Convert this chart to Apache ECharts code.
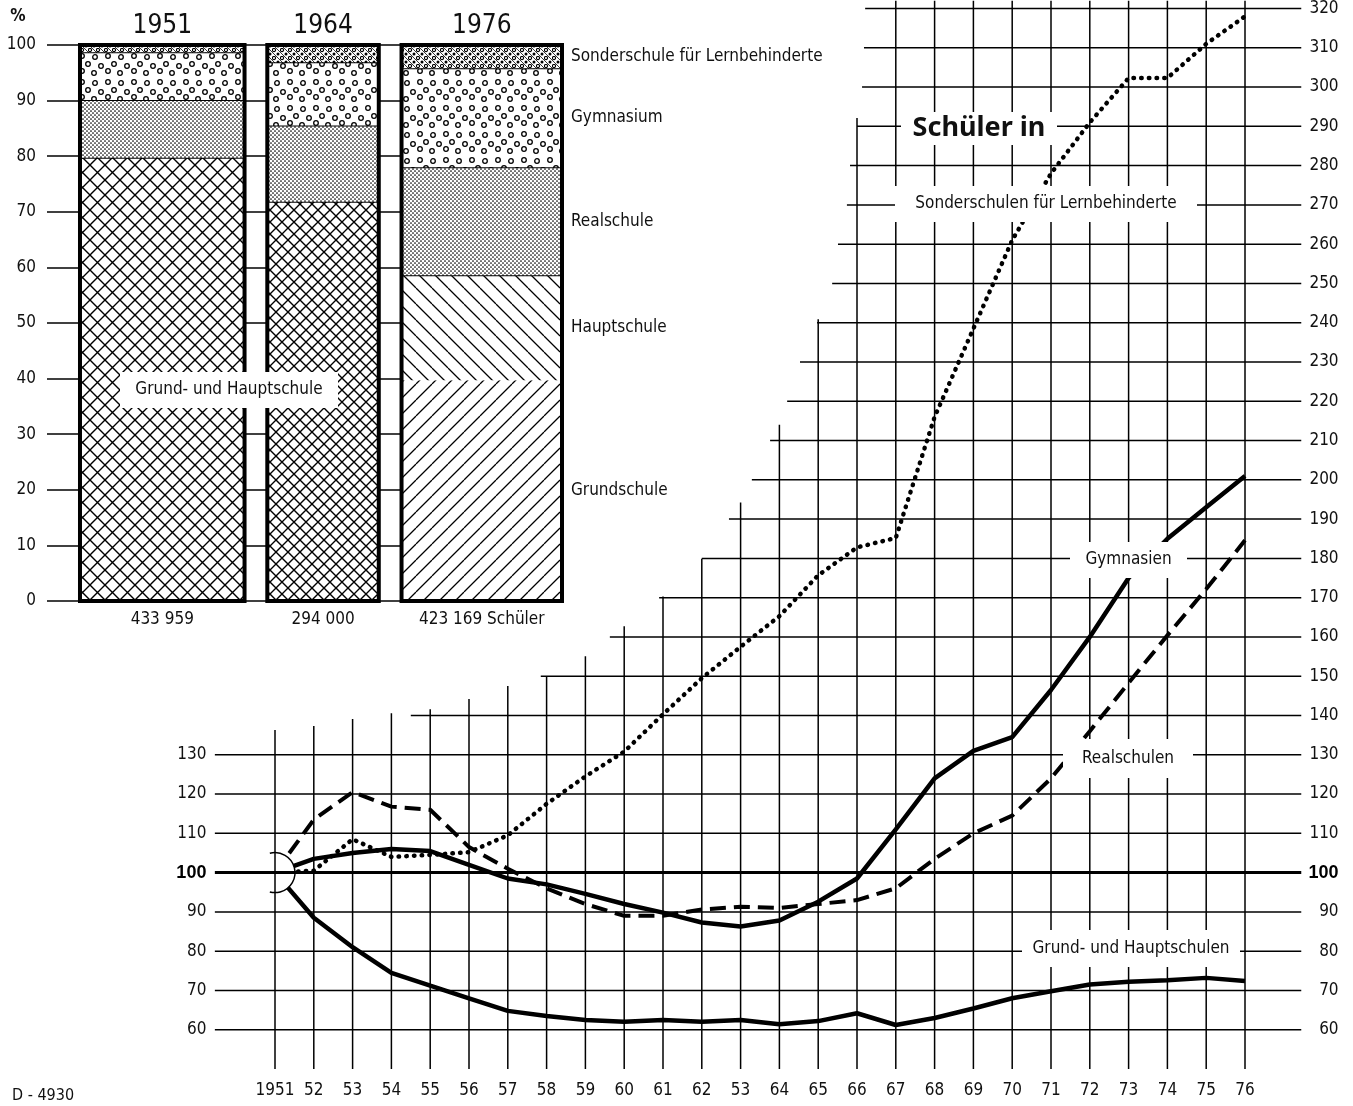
<!DOCTYPE html>
<html>
<head>
<meta charset="utf-8">
<title>Schüler 1951 - 1976</title>
<script src="https://cdn.jsdelivr.net/npm/echarts@6/dist/echarts.min.js"></script>
<style>
  html, body { margin: 0; padding: 0; background: #fff; }
  #chart { width: 1353px; height: 1106px; }
</style>
</head>
<body>
<div id="chart"></div>
<script>
// Anteile der Schulformen (%) in den Stichjahren
var barYears = ['1951', '1964', '1976'];
var pupils = [433959, 294000, 423169];
var pupilLabels = ['433 959', '294 000', '423 169 Schüler'];
var shareGrundHaupt = [79.7, 71.8, null];
var shareGrund = [null, null, 39.7];
var shareHaupt = [null, null, 18.9];
var shareReal = [10.4, 13.7, 19.4];
var shareGymn = [8.6, 11.4, 17.8];
var shareSonder = [1.3, 3.1, 4.2];

// Schüler in ... (1951 = 100)
var years = [1951, 1952, 1953, 1954, 1955, 1956, 1957, 1958, 1959, 1960, 1961, 1962, 1963,
             1964, 1965, 1966, 1967, 1968, 1969, 1970, 1971, 1972, 1973, 1974, 1975, 1976];
var yearLabels = ['1951', '52', '53', '54', '55', '56', '57', '58', '59', '60', '61', '62', '53',
                  '64', '65', '66', '67', '68', '69', '70', '71', '72', '73', '74', '75', '76'];
var grundHaupt = [100, 88.5, 81, 74.5, 71.2, 68, 64.8, 63.5, 62.5, 62, 62.5, 62, 62.5,
                  61.4, 62.2, 64.2, 61.2, 63, 65.4, 68, 69.8, 71.5, 72.2, 72.6, 73.2, 72.4];
var gymnasien = [100, 103.5, 105, 106, 105.5, 102, 98.5, 97, 94.6, 92, 89.8, 87.3, 86.3,
                 87.8, 92.6, 98.5, 111, 124, 131, 134.5, 146.5, 160, 175, 185, 193, 201];
var realschulen = [100, 113.5, 120.5, 116.8, 116, 106.5, 101, 96, 92, 89, 89, 90.6, 91.3,
                   91, 92, 93, 96, 103.5, 110, 114.5, 124, 136, 148.3, 160.4, 172.2, 184.6];
var sonderschulen = [100, 100.5, 108.5, 104, 104.5, 105.2, 109.5, 117.5, 124.5, 130.8, 140.3, 149.5, 157.5,
                     165.3, 175.7, 182.8, 185.2, 216, 238.5, 261, 278, 291, 302.3, 302.3, 311, 318];

// Treppenförmiges Raster: Höhe der senkrechten Linien, Beginn der waagerechten Linien
var vLineTop = [136.3, 137.3, 139.1, 140.6, 141.6, 144.2, 147.5, 150, 155.1, 162.7, 170.3, 179.9, 194.2,
                214, 240.9, 292.1, 322, 322, 322, 322, 322, 322, 322, 322, 322, 322];
var hLevels = [60, 70, 80, 90, 100, 110, 120, 130, 140, 150, 160, 170, 180, 190, 200, 210,
               220, 230, 240, 250, 260, 270, 280, 290, 300, 310, 320];
var hLineStart = [1949.45, 1949.45, 1949.45, 1949.45, 1949.45, 1949.45, 1949.45, 1949.45, 1954.5, 1957.85,
                  1959.63, 1960.9, 1962.0, 1962.7, 1963.29, 1963.76, 1964.2, 1964.53, 1964.97, 1965.36,
                  1965.51, 1965.74, 1965.82, 1966.0, 1966.13, 1966.18, 1966.21];

var NARROW = "'Liberation Sans Narrow', 'Arial Narrow', 'DejaVu Sans Condensed', sans-serif";
var GAP = 60000;        // Lücke zwischen den Säulen (in Schülern der x-Skala)
var H_END = 1977.45;    // rechtes Ende der waagerechten Linien

function pattern(w, h, draw) {
  var c = document.createElement('canvas');
  c.width = w; c.height = h;
  var ctx = c.getContext('2d');
  ctx.fillStyle = '#fff';
  ctx.fillRect(0, 0, w, h);
  ctx.strokeStyle = '#000';
  ctx.fillStyle = '#000';
  draw(ctx);
  return { image: c, repeat: 'repeat' };
}

function crossPattern(s) {
  return pattern(s, s, function (ctx) {
    ctx.lineWidth = 1.4;
    ctx.beginPath();
    ctx.moveTo(0, 0); ctx.lineTo(s, s);
    ctx.moveTo(s, 0); ctx.lineTo(0, s);
    ctx.stroke();
  });
}
var crossWide = crossPattern(15);
var crossNarrow = crossPattern(12);
var slashFill = pattern(16, 16, function (ctx) {
  ctx.lineWidth = 1.3;
  ctx.beginPath();
  [-16, 0, 16].forEach(function (k) { ctx.moveTo(k, 16); ctx.lineTo(k + 16, 0); });
  ctx.stroke();
});
var backslashFill = pattern(16, 16, function (ctx) {
  ctx.lineWidth = 1.3;
  ctx.beginPath();
  [-16, 0, 16].forEach(function (k) { ctx.moveTo(k, 0); ctx.lineTo(k + 16, 16); });
  ctx.stroke();
});
var dotFill = pattern(4, 4, function (ctx) {
  ctx.beginPath();
  ctx.arc(1, 1, 0.85, 0, Math.PI * 2);
  ctx.arc(3, 3, 0.85, 0, Math.PI * 2);
  ctx.fill();
});
var ringFill = pattern(26, 26, function (ctx) {
  ctx.lineWidth = 1.3;
  [[4, 4], [17, 5], [10, 12], [23, 14], [4, 19], [16, 21]].forEach(function (p) {
    ctx.beginPath();
    ctx.arc(p[0], p[1], 2.3, 0, Math.PI * 2);
    ctx.stroke();
  });
});
var sonderFill = pattern(8, 8, function (ctx) {
  ctx.lineWidth = 1.1;
  ctx.beginPath();
  ctx.arc(2, 2, 1.6, 0, Math.PI * 2);
  ctx.stroke();
  ctx.beginPath();
  ctx.arc(6, 6, 1.5, 0, Math.PI * 2);
  ctx.fill();
  ctx.lineWidth = 0.8;
  ctx.beginPath();
  ctx.moveTo(4, 0); ctx.lineTo(8, 4);
  ctx.moveTo(0, 4); ctx.lineTo(4, 8);
  ctx.stroke();
});

var segments = [
  { name: 'Grund- und Hauptschule', values: shareGrundHaupt, fill: [crossWide, crossNarrow, crossWide] },
  { name: 'Grundschule', values: shareGrund, fill: slashFill },
  { name: 'Hauptschule', values: shareHaupt, fill: backslashFill },
  { name: 'Realschule', values: shareReal, fill: dotFill },
  { name: 'Gymnasium', values: shareGymn, fill: ringFill },
  { name: 'Sonderschule für Lernbehinderte', values: shareSonder, fill: sonderFill }
];

// Säulen: Breite proportional zur Schülerzahl
var barData = [];
var xPos = 0;
pupils.forEach(function (n, i) {
  barData.push([xPos, xPos + n, i]);
  xPos += n + GAP;
});
var barMax = xPos - GAP;

function renderBar(params, api) {
  var i = api.value(2), x0 = api.value(0), x1 = api.value(1);
  var last = i === barYears.length - 1;
  var children = [];
  var cum = 0;
  segments.forEach(function (seg) {
    var v = seg.values[i];
    if (v == null) return;
    var pTop = api.coord([x0, cum + v]);
    var pBot = api.coord([x1, cum]);
    children.push({
      type: 'rect',
      shape: { x: pTop[0], y: pTop[1], width: pBot[0] - pTop[0], height: pBot[1] - pTop[1] },
      style: { fill: Array.isArray(seg.fill) ? seg.fill[i] : seg.fill }
    });
    if (cum + v < 99.9 && seg.name !== 'Grundschule') {
      children.push({
        type: 'line',
        shape: { x1: pTop[0], y1: pTop[1], x2: pBot[0], y2: pTop[1] },
        style: { stroke: '#000', lineWidth: 2 }
      });
    }
    if (last) {
      children.push({
        type: 'text',
        style: {
          text: seg.name, x: pBot[0] + 9, y: (pTop[1] + pBot[1]) / 2,
          align: 'left', verticalAlign: 'middle',
          fontSize: 17, fontFamily: NARROW, fill: '#111'
        }
      });
    }
    cum += v;
  });
  var a = api.coord([x0, 100]);
  var b = api.coord([x1, 0]);
  children.push({
    type: 'rect',
    shape: { x: a[0], y: a[1], width: b[0] - a[0], height: b[1] - a[1] },
    style: { fill: 'none', stroke: '#000', lineWidth: 4 }
  });
  children.push({
    type: 'text',
    style: {
      text: barYears[i], x: (a[0] + b[0]) / 2, y: a[1] - 19,
      align: 'center', verticalAlign: 'middle',
      fontSize: 26, fontFamily: NARROW, fill: '#111'
    }
  });
  children.push({
    type: 'text',
    style: {
      text: pupilLabels[i], x: (a[0] + b[0]) / 2, y: b[1] + 19,
      align: 'center', verticalAlign: 'middle',
      fontSize: 17, fontFamily: NARROW, fill: '#111'
    }
  });
  return { type: 'group', children: children };
}

function lineSeries(name, values, style) {
  return {
    name: name, type: 'line', xAxisIndex: 0, yAxisIndex: 0, z: 2,
    symbol: 'none', silent: true,
    data: years.map(function (y, i) { return [y, values[i]]; }),
    lineStyle: style
  };
}

function boxLabel(text, x1, y1, x2, y2, font) {
  return [
    { type: 'rect', z: 100, shape: { x: x1, y: y1, width: x2 - x1, height: y2 - y1 }, style: { fill: '#fff' } },
    {
      type: 'text', z: 101, x: (x1 + x2) / 2, y: (y1 + y2) / 2,
      style: { text: text, font: font, fill: '#111', align: 'center', verticalAlign: 'middle' }
    }
  ];
}

var labelFont = 'normal 17px ' + NARROW;
var graphics = [].concat(
  boxLabel('Schüler in', 901, 112, 1057, 145, 'bold 27px "Noto Sans", sans-serif'),
  boxLabel('Sonderschulen für Lernbehinderte', 895, 186, 1197, 222, labelFont),
  boxLabel('Gymnasien', 1070, 542, 1187, 578, labelFont),
  boxLabel('Realschulen', 1063, 739, 1193, 778, labelFont),
  boxLabel('Grund- und Hauptschulen', 1022, 930, 1240, 967, labelFont),
  boxLabel('Grund- und Hauptschule', 120, 372, 338, 408, labelFont),
  [
    { type: 'text', z: 101, x: 18, y: 17,
      style: { text: '%', font: 'bold 17px ' + NARROW, fill: '#111', align: 'center', verticalAlign: 'middle' } },
    { type: 'text', z: 101, x: 12, y: 1096,
      style: { text: 'D - 4930', font: 'normal 16px ' + NARROW, fill: '#111', align: 'left', verticalAlign: 'middle' } }
  ]
);

var chart = echarts.init(document.getElementById('chart'), null, { renderer: 'canvas' });

var option = {
  backgroundColor: '#fff',
  animation: false,
  graphic: graphics,
  grid: [
    { left: 197.4, right: 30.4, top: 0, bottom: 37 },
    { left: 47, right: 1353 - 562, top: 45, bottom: 1106 - 601 }
  ],
  xAxis: [
    {
      gridIndex: 0, type: 'value', min: 1949, max: 1978, interval: 1,
      axisLine: { show: false }, axisTick: { show: false }, splitLine: { show: false },
      axisLabel: {
        margin: 13, fontSize: 17, fontFamily: NARROW, color: '#111',
        formatter: function (v) {
          var k = years.indexOf(v);
          return k < 0 ? '' : yearLabels[k];
        }
      }
    },
    { gridIndex: 1, type: 'value', min: -87000, max: barMax, show: false }
  ],
  yAxis: [
    {
      gridIndex: 0, type: 'value', position: 'left', min: 50, max: 321.3, interval: 10,
      axisLine: { show: false }, axisTick: { show: false }, splitLine: { show: false },
      axisLabel: {
        margin: -9, align: 'right', fontSize: 17, fontFamily: NARROW, color: '#111',
        formatter: function (v) {
          if (v % 10 !== 0 || v < 60 || v > 130) return '';
          return v === 100 ? '{b|100}' : String(v);
        },
        rich: { b: { fontSize: 18, fontWeight: 'bold', fontFamily: "'Liberation Sans', sans-serif", color: '#000' } }
      }
    },
    {
      gridIndex: 0, type: 'value', position: 'right', min: 50, max: 321.3, interval: 10,
      axisLine: { show: false }, axisTick: { show: false }, splitLine: { show: false },
      axisLabel: {
        margin: 16, align: 'right', fontSize: 17, fontFamily: NARROW, color: '#111',
        formatter: function (v) {
          if (v % 10 !== 0 || v < 60 || v > 320) return '';
          return v === 100 ? '{b|100}' : String(v);
        },
        rich: { b: { fontSize: 18, fontWeight: 'bold', fontFamily: "'Liberation Sans', sans-serif", color: '#000' } }
      }
    },
    {
      gridIndex: 1, type: 'value', min: 0, max: 100, interval: 10,
      axisLine: { show: false }, axisTick: { show: false },
      splitLine: { show: true, lineStyle: { color: '#000', width: 1.5 } },
      axisLabel: { margin: 11, fontSize: 17, fontFamily: NARROW, color: '#111' }
    }
  ],
  series: [
    {
      type: 'custom', name: 'senkrecht', xAxisIndex: 0, yAxisIndex: 0, z: 4, silent: true,
      data: years.map(function (y, i) { return [y, vLineTop[i]]; }),
      renderItem: function (params, api) {
        var p0 = api.coord([api.value(0), 50]);
        var p1 = api.coord([api.value(0), api.value(1)]);
        return { type: 'line', shape: { x1: p0[0], y1: p0[1], x2: p1[0], y2: p1[1] },
                 style: { stroke: '#000', lineWidth: 1.5 } };
      }
    },
    {
      type: 'custom', name: 'waagerecht', xAxisIndex: 0, yAxisIndex: 0, z: 4, silent: true,
      data: hLevels.map(function (v, i) { return [hLineStart[i], v]; }),
      renderItem: function (params, api) {
        var p0 = api.coord([api.value(0), api.value(1)]);
        var p1 = api.coord([H_END, api.value(1)]);
        return { type: 'line', shape: { x1: p0[0], y1: p0[1], x2: p1[0], y2: p1[1] },
                 style: { stroke: '#000', lineWidth: api.value(1) === 100 ? 3 : 1.5 } };
      }
    },
    lineSeries('Grund- und Hauptschulen', grundHaupt, { color: '#000', width: 4.5 }),
    lineSeries('Gymnasien', gymnasien, { color: '#000', width: 4.5 }),
    lineSeries('Realschulen', realschulen, { color: '#000', width: 4, type: [16, 8] }),
    lineSeries('Sonderschulen für Lernbehinderte', sonderschulen,
               { color: '#000', width: 4.5, type: [0.5, 7.2], cap: 'round' }),
    {
      type: 'custom', name: 'Ursprung', xAxisIndex: 0, yAxisIndex: 0, z: 3, silent: true,
      data: [[years[0], 100]],
      renderItem: function (params, api) {
        var p = api.coord([api.value(0), api.value(1)]);
        return { type: 'circle', shape: { cx: p[0], cy: p[1], r: 20 }, style: { fill: '#fff' } };
      }
    },
    {
      type: 'custom', name: 'Ursprungsbogen', xAxisIndex: 0, yAxisIndex: 0, z: 5, silent: true,
      data: [[years[0], 100]],
      renderItem: function (params, api) {
        var p = api.coord([api.value(0), api.value(1)]);
        return { type: 'arc',
                 shape: { cx: p[0], cy: p[1], r: 20, startAngle: -105 * Math.PI / 180,
                          endAngle: 105 * Math.PI / 180, clockwise: true },
                 style: { fill: 'none', stroke: '#000', lineWidth: 1.5 } };
      }
    },
    {
      type: 'custom', name: 'Anteile', xAxisIndex: 1, yAxisIndex: 2, z: 2, silent: true,
      data: barData,
      renderItem: renderBar
    }
  ]
};

chart.setOption(option);
</script>
</body>
</html>
